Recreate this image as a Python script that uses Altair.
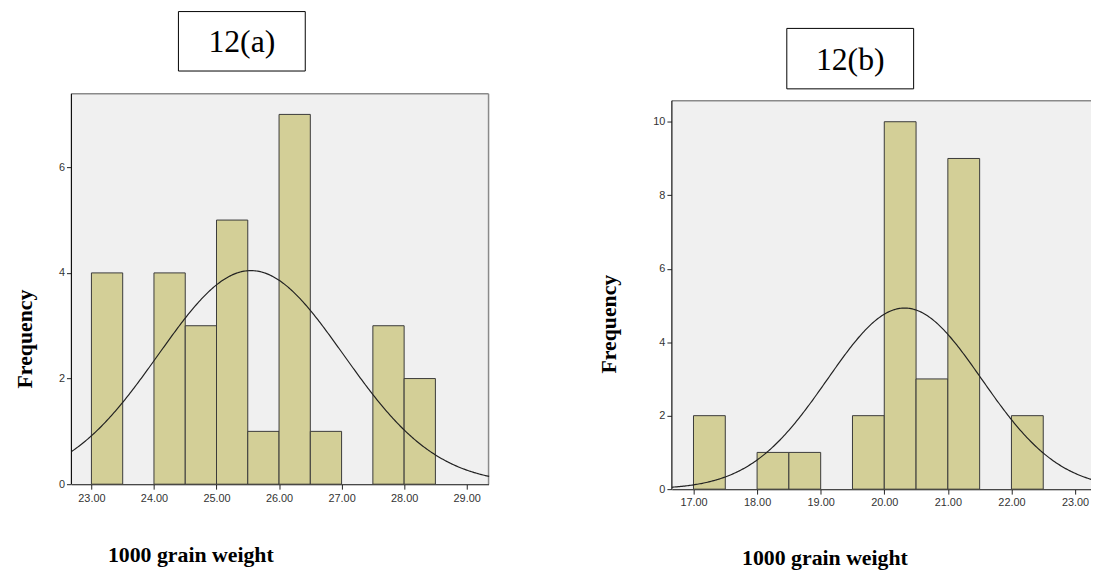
import altair as alt
import pandas as pd

# ---- data ----
a_bin_start = [23.0, 24.0, 24.5, 25.0, 25.5, 26.0, 26.5, 27.5, 28.0]
a_counts = [4, 4, 3, 5, 1, 7, 1, 3, 2]
b_bin_start = [17.0, 18.0, 18.5, 19.5, 20.0, 20.5, 21.0, 22.0]
b_counts = [2, 1, 1, 2, 10, 3, 9, 2]
bin_width = 0.5
n_obs = 30
a_mean, a_sd = 25.55, 1.48
b_mean, b_sd = 20.32, 1.214
a_ticks = [23, 24, 25, 26, 27, 28, 29]
b_ticks = [17, 18, 19, 20, 21, 22, 23]
a_yticks = [0, 2, 4, 6]
b_yticks = [0, 2, 4, 6, 8, 10]
a_label = "12(a)"
b_label = "12(b)"
x_title = "1000 grain weight"
y_title = "Frequency"

BAR_FILL = "#d3cf97"
BAR_STROKE = "#3a3a3a"
BG = "#f0f0f0"
FRAME = "#8a8a8a"


def panel(starts, counts, mean, sd, xdom, ydom, xticks, yticks, label, w, h,
          box, ytx, yty, xtx, xty, top_gap, right_frame):
    df = pd.DataFrame({"start": starts, "end": [s + bin_width for s in starts], "count": counts})
    xscale = alt.Scale(domain=xdom, nice=False, zero=False)
    yscale = alt.Scale(domain=ydom, nice=False)
    common = dict(grid=False, labelFont="Liberation Sans", labelFontSize=11, labelColor="#333",
                  tickColor="#222", tickSize=5, domainColor="#111", domainWidth=1.2,
                  titleFont="Liberation Serif", titleFontSize=22, titleFontWeight="bold",
                  titleColor="black", titleAlign="center", titleBaseline="middle")
    xaxis = alt.Axis(values=xticks, format=".2f", title=x_title, titleX=xtx, titleY=xty,
                     labelPadding=3, **common)
    yaxis = alt.Axis(values=yticks, format="d", title=y_title, titleX=ytx, titleY=yty,
                     titleAngle=270, domain=False, **common)
    one = alt.Data(values=[{"k": 1}])
    layers = []
    layers.append(alt.Chart(one).mark_rect(fill=BG).encode(
        x=alt.value(0), x2=alt.value(w), y=alt.value(top_gap), y2=alt.value(h)))
    layers.append(alt.Chart(one).mark_rule(color=FRAME, strokeWidth=1.5).encode(
        x=alt.value(0), x2=alt.value(w), y=alt.value(top_gap)))
    if right_frame:
        layers.append(alt.Chart(one).mark_rule(color=FRAME, strokeWidth=1.5).encode(
            x=alt.value(w), y=alt.value(top_gap), y2=alt.value(h)))
    layers.append(alt.Chart(df).mark_bar(fill=BAR_FILL, stroke=BAR_STROKE, strokeWidth=1).encode(
        x=alt.X("start:Q", scale=xscale, axis=xaxis),
        x2="end:Q",
        y=alt.Y("count:Q", scale=yscale, axis=yaxis),
        y2=alt.datum(0),
    ))
    peak = n_obs * bin_width / (sd * 2.5066282746)
    layers.append(alt.Chart(alt.sequence(xdom[0], xdom[1] + 0.01, 0.02, as_="x")).transform_calculate(
        y=f"{peak} * exp(-0.5 * pow((datum.x - {mean}) / {sd}, 2))"
    ).mark_line(color="#222", strokeWidth=1.2).encode(
        x=alt.X("x:Q", scale=xscale),
        y=alt.Y("y:Q", scale=yscale),
    ))
    layers.append(alt.Chart(one).mark_rule(color="#111", strokeWidth=1.2).encode(
        x=alt.value(0), y=alt.value(top_gap), y2=alt.value(h)))
    bx0, bx1, by0, by1 = box
    layers.append(alt.Chart(one).mark_rect(fill="white", stroke="black", strokeWidth=1).encode(
        x=alt.value(bx0), x2=alt.value(bx1), y=alt.value(by0), y2=alt.value(by1)))
    layers.append(alt.Chart(one).mark_text(text=label, font="Liberation Serif", fontSize=32,
                                           color="black", align="center", baseline="middle").encode(
        x=alt.value((bx0 + bx1) / 2), y=alt.value((by0 + by1) / 2 + 1)))
    return alt.layer(*layers).properties(
        width=w, height=h, view=alt.ViewBackground(fill=None, stroke=None))


pa = panel(a_bin_start, a_counts, a_mean, a_sd, [22.68, 29.35], [0, 7.39], a_ticks, a_yticks,
           a_label, 421, 394, (108, 236, -83, -23), -47, 247, 120, 71, 0, True)
# panel b: view starts 7px higher than its grey frame so both panels share one origin row;
# its plot runs past the right edge of the picture, as in the reference
pb = panel(b_bin_start, b_counts, b_mean, b_sd, [16.66, 23.36], [0, 10.76], b_ticks, b_yticks,
           b_label, 430, 399, (116, 244, -66, -5), -64, 232, 154, 69, 7, False)

chart = alt.hconcat(pa, pb, spacing=106).properties(
    padding={"left": 6, "top": 0, "right": -10, "bottom": 0}
).configure_view(stroke=None)

chart.save("out.html", embed_options={"renderer": "svg", "actions": False})
